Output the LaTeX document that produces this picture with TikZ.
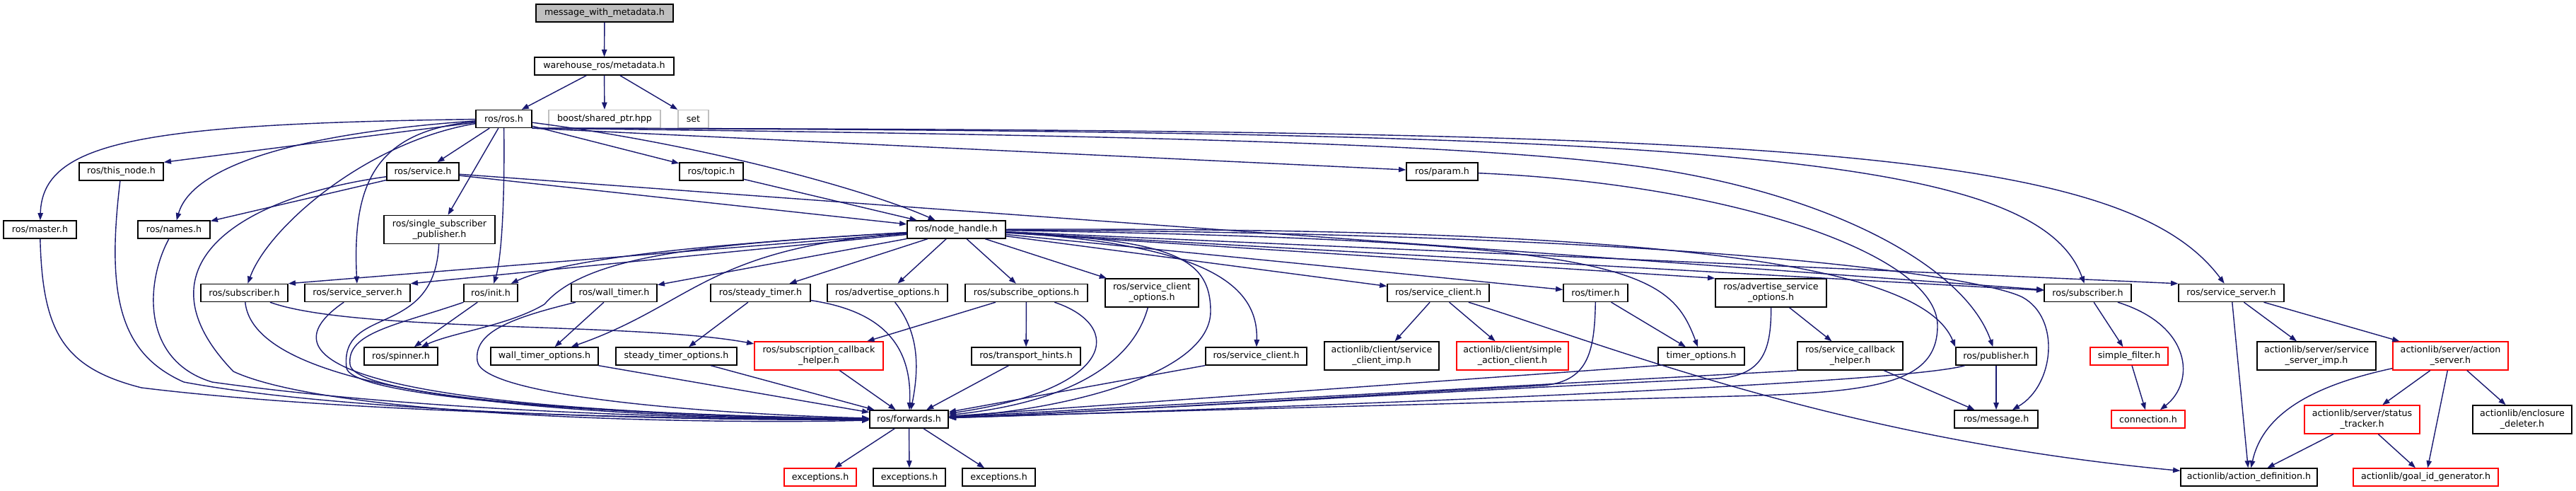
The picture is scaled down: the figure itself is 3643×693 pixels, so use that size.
\documentclass[tikz,border=0pt]{standalone}
\usepackage{fontspec}
\setmainfont{DejaVu Sans}
\definecolor{navyedge}{HTML}{191970}
\definecolor{lightbox}{HTML}{BFBFBF}
\usetikzlibrary{arrows.meta}

\begin{document}
\begin{tikzpicture}[x=0.01cm, y=-0.01cm,
  hdr/.style={rectangle, draw=black, fill=white, line width=0.4pt, inner sep=0pt, minimum height=0.25cm, align=center, font=\fontsize{3.6}{4.3}\selectfont},
  hdrpair/.style={hdr, minimum height=0.4cm},
  hdrmiss/.style={draw=red},
  hdrext/.style={draw=lightbox},
  dep/.style={draw=navyedge, line width=0.4pt, -{Triangle[length=2.9pt, width=2.1pt]}}]
\path[fill=white] (0,0) rectangle (3643,693);
\node[hdr, fill=lightbox, minimum width=1.94cm] (msgmeta) at (855,18.5) {message\_with\_metadata.h};
\node[hdr, minimum width=1.97cm] (whmeta) at (854.5,93.5) {warehouse\_ros/metadata.h};
\node[hdr, minimum width=0.79cm] (rosh) at (712.5,168) {ros/ros.h};
\node[hdr, hdrext, minimum width=1.58cm] (boostptr) at (855,168) {boost/shared\_ptr.hpp};
\node[hdr, hdrext, minimum width=0.43cm] (stdset) at (980.5,168) {set};
\node[hdr, minimum width=1.19cm] (thisnode) at (171.5,242.5) {ros/this\_node.h};
\node[hdr, minimum width=1.02cm] (service) at (598,242.5) {ros/service.h};
\node[hdr, minimum width=0.90cm] (topic) at (1006,242.5) {ros/topic.h};
\node[hdr, minimum width=1.01cm] (param) at (2039.5,242.5) {ros/param.h};
\node[hdr, minimum width=1.03cm] (master) at (56.5,324.5) {ros/master.h};
\node[hdr, minimum width=1.02cm] (names) at (246,324.5) {ros/names.h};
\node[hdrpair, minimum width=1.57cm] (singlesub) at (621.5,324.5) {ros/single\_subscriber\\\_publisher.h};
\node[hdr, minimum width=1.39cm] (nodehandle) at (1352.5,324.5) {ros/node\_handle.h};
\node[hdr, minimum width=1.23cm] (subL) at (345.5,414) {ros/subscriber.h};
\node[hdr, minimum width=1.49cm] (servsrvL) at (505.5,414) {ros/service\_server.h};
\node[hdr, minimum width=0.76cm] (init) at (694,414) {ros/init.h};
\node[hdr, minimum width=1.21cm] (walltimer) at (868.5,414) {ros/wall\_timer.h};
\node[hdr, minimum width=1.41cm] (steadytimer) at (1075.5,414) {ros/steady\_timer.h};
\node[hdr, minimum width=1.70cm] (advopt) at (1255,414) {ros/advertise\_options.h};
\node[hdr, minimum width=1.73cm] (subopt) at (1451.5,414) {ros/subscribe\_options.h};
\node[hdrpair, minimum width=1.32cm] (clientopt) at (1629,414) {ros/service\_client\\\_options.h};
\node[hdr, minimum width=1.44cm] (clientU) at (2034,414) {ros/service\_client.h};
\node[hdr, minimum width=0.91cm] (timer) at (2256.5,414) {ros/timer.h};
\node[hdrpair, minimum width=1.57cm] (advsrvopt) at (2504.5,414) {ros/advertise\_service\\\_options.h};
\node[hdr, minimum width=1.23cm] (subR) at (2952.5,414) {ros/subscriber.h};
\node[hdr, minimum width=1.49cm] (servsrvR) at (3155.5,414) {ros/service\_server.h};
\node[hdr, minimum width=1.04cm] (spinner) at (567,503.5) {ros/spinner.h};
\node[hdr, minimum width=1.52cm] (walltimeropt) at (770,503.5) {wall\_timer\_options.h};
\node[hdr, minimum width=1.71cm] (steadytimeropt) at (956.5,503.5) {steady\_timer\_options.h};
\node[hdrpair, hdrmiss, minimum width=1.82cm] (subcb) at (1158,503) {ros/subscription\_callback\\\_helper.h};
\node[hdr, minimum width=1.54cm] (transport) at (1451,503.5) {ros/transport\_hints.h};
\node[hdr, minimum width=1.43cm] (clientL) at (1776.5,503.5) {ros/service\_client.h};
\node[hdrpair, minimum width=1.62cm] (clientimp) at (1954,503) {actionlib/client/service\\\_client\_imp.h};
\node[hdrpair, hdrmiss, minimum width=1.58cm] (simpleclient) at (2139,503) {actionlib/client/simple\\\_action\_client.h};
\node[hdr, minimum width=1.22cm] (timeropt) at (2406,503.5) {timer\_options.h};
\node[hdrpair, minimum width=1.49cm] (servcb) at (2616.5,503) {ros/service\_callback\\\_helper.h};
\node[hdr, minimum width=1.14cm] (publisher) at (2823,503.5) {ros/publisher.h};
\node[hdr, hdrmiss, minimum width=1.10cm] (simplefilter) at (3011,503.5) {simple\_filter.h};
\node[hdrpair, minimum width=1.68cm] (srvimp) at (3276,503) {actionlib/server/service\\\_server\_imp.h};
\node[hdrpair, hdrmiss, minimum width=1.63cm] (actionsrv) at (3465.5,503) {actionlib/server/action\\\_server.h};
\node[hdr, minimum width=1.11cm] (forwards) at (1285.5,592.5) {ros/forwards.h};
\node[hdr, minimum width=1.18cm] (message) at (2823,592.5) {ros/message.h};
\node[hdr, hdrmiss, minimum width=1.04cm] (connection) at (3038,592.5) {connection.h};
\node[hdrpair, hdrmiss, minimum width=1.63cm] (statustracker) at (3340.5,593) {actionlib/server/status\\\_tracker.h};
\node[hdrpair, minimum width=1.40cm] (enclosure) at (3567,593) {actionlib/enclosure\\\_deleter.h};
\node[hdr, hdrmiss, minimum width=1.02cm] (excA) at (1160,674.5) {exceptions.h};
\node[hdr, minimum width=1.02cm] (excB) at (1286,674.5) {exceptions.h};
\node[hdr, minimum width=1.03cm] (excC) at (1412.5,674.5) {exceptions.h};
\node[hdr, minimum width=1.93cm] (actiondef) at (3180.5,674.5) {actionlib/action\_definition.h};
\node[hdr, hdrmiss, minimum width=2.05cm] (goalid) at (3430.5,674.5) {actionlib/goal\_id\_generator.h};
\draw[dep] (msgmeta) -- (whmeta);
\draw[dep] (whmeta) -- (rosh);
\draw[dep] (whmeta) -- (boostptr);
\draw[dep] (whmeta) -- (stdset);
\draw[dep] (rosh) -- (thisnode.north east);
\draw[dep] (rosh) .. controls (200,175) and (60,200) .. (master);
\draw[dep] (rosh) .. controls (400,190) and (270,240) .. (names);
\draw[dep] (rosh) -- (service);
\draw[dep] (rosh) -- (singlesub);
\draw[dep] (rosh) .. controls (520,200) and (380,320) .. (subL);
\draw[dep] (rosh) .. controls (530,185) and (498,260) .. (servsrvL);
\draw[dep] (rosh) .. controls (714,300) and (708,370) .. (init);
\draw[dep] (rosh) -- (topic);
\draw[dep] (rosh) .. controls (1000,205) and (1230,270) .. (nodehandle);
\draw[dep] (rosh.south east) -- (param);
\draw[dep] (rosh.south east) .. controls (1500,190) and (2100,200) .. (2350,240) .. controls (2600,280) and (2780,380) .. (publisher);
\draw[dep] (rosh.south east) .. controls (2400,185) and (2880,215) .. (subR);
\draw[dep] (rosh.south east) .. controls (2500,183) and (3000,205) .. (servsrvR);
\draw[dep] (service) -- (names);
\draw[dep] (service) .. controls (330,280) and (190,380) .. (330,525) .. controls (470,590) and (1000,600) .. (forwards);
\draw[dep] (service) -- (nodehandle);
\draw[dep] (service) -- (subR);
\draw[dep] (topic) -- (nodehandle);
\draw[dep] (param) .. controls (2450,260) and (2740,360) .. (2740,460) .. controls (2740,540) and (2660,555) .. (2450,560) .. controls (2000,572) and (1600,582) .. (forwards);
\draw[dep] (thisnode) .. controls (150,420) and (170,500) .. (260,540) .. controls (500,585) and (1000,595) .. (forwards);
\draw[dep] (master) .. controls (60,470) and (90,520) .. (200,548) .. controls (500,585) and (1000,593) .. (forwards);
\draw[dep] (names) .. controls (205,400) and (200,510) .. (300,540) .. controls (600,582) and (1000,592) .. (forwards);
\draw[dep] (singlesub) .. controls (615,480) and (480,430) .. (490,520) .. controls (500,570) and (1000,590) .. (forwards);
\draw[dep] (subL) .. controls (360,560) and (800,590) .. (forwards);
\draw[dep] (subL) .. controls (500,470) and (900,455) .. (subcb);
\draw[dep] (servsrvL) .. controls (380,500) and (450,580) .. (forwards);
\draw[dep] (init) -- (spinner);
\draw[dep] (init) .. controls (560,460) and (490,470) .. (495,515) .. controls (500,570) and (1000,590) .. (forwards);
\draw[dep] (walltimer) -- (walltimeropt);
\draw[dep] (walltimer) .. controls (720,450) and (670,470) .. (675,510) .. controls (680,560) and (1000,585) .. (forwards);
\draw[dep] (steadytimer) -- (steadytimeropt);
\draw[dep] (steadytimer) .. controls (1250,440) and (1290,490) .. (forwards);
\draw[dep] (advopt) .. controls (1300,470) and (1300,520) .. (forwards);
\draw[dep] (subopt) -- (subcb);
\draw[dep] (subopt) -- (transport);
\draw[dep] (subopt) .. controls (1590,460) and (1580,550) .. (forwards);
\draw[dep] (clientopt) .. controls (1600,520) and (1500,570) .. (forwards);
\draw[dep] (transport) -- (forwards);
\draw[dep] (subcb) -- (forwards);
\draw[dep] (walltimeropt) -- (forwards);
\draw[dep] (steadytimeropt) -- (forwards);
\draw[dep] (clientL) -- (forwards);
\draw[dep] (nodehandle) -- (subL.north east);
\draw[dep] (nodehandle) -- (servsrvL.north east);
\draw[dep] (nodehandle) .. controls (1000,345) and (800,365) .. (init);
\draw[dep] (nodehandle) .. controls (1000,345) and (830,360) .. (770,430) .. controls (720,460) and (640,470) .. (spinner);
\draw[dep] (nodehandle) -- (walltimer);
\draw[dep] (nodehandle) .. controls (1000,350) and (980,430) .. (walltimeropt);
\draw[dep] (nodehandle) -- (steadytimer);
\draw[dep] (nodehandle) -- (advopt);
\draw[dep] (nodehandle) -- (subopt);
\draw[dep] (nodehandle) -- (clientopt);
\draw[dep] (nodehandle) .. controls (1700,345) and (1780,400) .. (clientL);
\draw[dep] (nodehandle) .. controls (1650,340) and (1712,360) .. (1712,440) .. controls (1712,530) and (1500,580) .. (forwards);
\draw[dep] (nodehandle) -- (clientU);
\draw[dep] (nodehandle) -- (timer);
\draw[dep] (nodehandle) -- (advsrvopt.north west);
\draw[dep] (nodehandle) .. controls (2300,340) and (2360,380) .. (timeropt);
\draw[dep] (nodehandle) .. controls (2400,320) and (2720,380) .. (publisher.north west);
\draw[dep] (nodehandle) -- (subR);
\draw[dep] (nodehandle) -- (servsrvR.north west);
\draw[dep] (nodehandle) .. controls (2400,330) and (2800,390) .. (2860,420) .. controls (2915,450) and (2905,545) .. (message);
\draw[dep] (clientU) -- (clientimp);
\draw[dep] (clientU) -- (simpleclient);
\draw[dep] (clientU) .. controls (2280,490) and (2600,620) .. (actiondef);
\draw[dep] (timer) -- (timeropt);
\draw[dep] (timer) .. controls (2255,500) and (2245,540) .. (2180,545) .. controls (1900,560) and (1600,580) .. (forwards);
\draw[dep] (timeropt.south west) -- (forwards);
\draw[dep] (advsrvopt) -- (servcb);
\draw[dep] (advsrvopt) .. controls (2505,500) and (2490,530) .. (2430,535) .. controls (2000,555) and (1600,580) .. (forwards);
\draw[dep] (servcb.south west) -- (forwards);
\draw[dep] (servcb) -- (message);
\draw[dep] (publisher) .. controls (2700,540) and (2000,570) .. (forwards);
\draw[dep] (publisher) -- (message);
\draw[dep] (subR) -- (simplefilter);
\draw[dep] (subR) .. controls (3100,460) and (3105,540) .. (connection);
\draw[dep] (simplefilter) -- (connection);
\draw[dep] (servsrvR) -- (actiondef);
\draw[dep] (servsrvR) -- (srvimp);
\draw[dep] (servsrvR) -- (actionsrv);
\draw[dep] (actionsrv) .. controls (3270,545) and (3200,585) .. (actiondef);
\draw[dep] (actionsrv) -- (statustracker);
\draw[dep] (actionsrv) -- (goalid);
\draw[dep] (actionsrv) -- (enclosure);
\draw[dep] (statustracker) -- (actiondef);
\draw[dep] (statustracker) -- (goalid);
\draw[dep] (forwards) -- (excA);
\draw[dep] (forwards) -- (excB);
\draw[dep] (forwards) -- (excC);
\end{tikzpicture}
\end{document}
